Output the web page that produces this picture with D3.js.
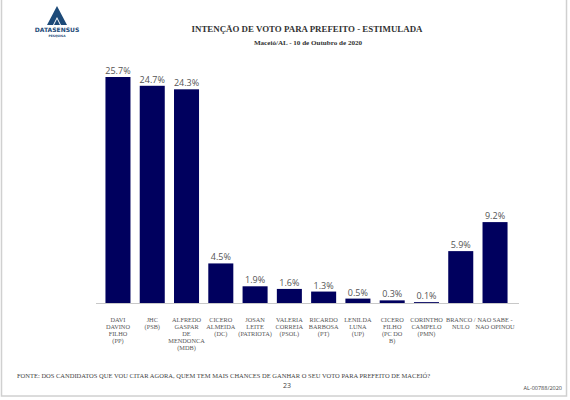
<!DOCTYPE html>
<html>
<head>
<meta charset="utf-8">
<script src="https://cdn.jsdelivr.net/npm/d3@7"></script>
<style>
  body { margin: 0; background: #fff; }
  .serif { font-family: "Liberation Serif", "DejaVu Serif", serif; }
</style>
</head>
<body>
<div class="chart"></div>
<script>
var svgWidth = 570;
var svgHeight = 400;

// data
var candidates = [
  ["DAVI", "DAVINO", "FILHO", "(PP)"],
  ["JHC", "(PSB)"],
  ["ALFREDO", "GASPAR", "DE", "MENDONCA", "(MDB)"],
  ["CICERO", "ALMEIDA", "(DC)"],
  ["JOSAN", "LEITE", "(PATRIOTA)"],
  ["VALERIA", "CORREIA", "(PSOL)"],
  ["RICARDO", "BARBOSA", "(PT)"],
  ["LENILDA", "LUNA", "(UP)"],
  ["CICERO", "FILHO", "(PC DO", "B)"],
  ["CORINTHO", "CAMPELO", "(PMN)"],
  ["BRANCO /", "NULO"],
  ["NAO SABE -", "NAO OPINOU"]
];
var percents = [25.7, 24.7, 24.3, 4.5, 1.9, 1.6, 1.3, 0.5, 0.3, 0.1, 5.9, 9.2];

var svg = d3.select(".chart")
  .append("svg")
  .attr("width", svgWidth)
  .attr("height", svgHeight);

// page frame
svg.append("rect")
  .attr("x", 1.5).attr("y", -2)
  .attr("width", 565).attr("height", 398)
  .attr("fill", "none")
  .attr("stroke", "#d0d0d0")
  .attr("stroke-width", 1.5);

// logo
var logo = svg.append("g").attr("transform", "translate(57, 0)");
logo.append("path")
  .attr("d", "M0,6 L-10,25 L-4,25 L0,17 L4,25 L10,25 Z")
  .attr("fill", "#1d4a78");
logo.append("path")
  .attr("d", "M0,19 L-3,25 L3,25 Z")
  .attr("fill", "#1d4a78");
logo.append("text")
  .attr("x", 0).attr("y", 32)
  .attr("text-anchor", "middle")
  .style("font-family", "DejaVu Sans")
  .style("font-size", "6px")
  .style("font-weight", "bold")
  .attr("fill", "#1d4a78")
  .text("DATASENSUS");
logo.append("text")
  .attr("x", 0).attr("y", 36.5)
  .attr("text-anchor", "middle")
  .style("font-family", "DejaVu Sans")
  .style("font-size", "3px")
  .style("font-weight", "bold")
  .attr("fill", "#1d4a78")
  .text("PESQUISA");

// titles
svg.append("text")
  .attr("class", "serif")
  .attr("x", 307).attr("y", 32)
  .attr("text-anchor", "middle")
  .style("font-size", "8.9px")
  .style("font-weight", "bold")
  .attr("fill", "#333")
  .text("INTENÇÃO DE VOTO PARA PREFEITO - ESTIMULADA");

svg.append("text")
  .attr("class", "serif")
  .attr("x", 308).attr("y", 44.5)
  .attr("text-anchor", "middle")
  .style("font-size", "7.1px")
  .style("font-weight", "bold")
  .attr("fill", "#333")
  .text("Maceió/AL - 10 de Outubro de 2020");

// scales
var baseY = 303;
var xScale = d3.scaleBand()
  .domain(d3.range(percents.length))
  .range([101, 512])
  .paddingInner(0.27)
  .paddingOuter(0.13);

var yScale = d3.scaleLinear()
  .domain([0, 25.7])
  .range([baseY, 77]);

// baseline
svg.append("line")
  .attr("x1", 96).attr("x2", 519)
  .attr("y1", baseY + 0.5).attr("y2", baseY + 0.5)
  .attr("stroke", "#c8c8c8")
  .attr("stroke-width", 1.2);

// bars
svg.selectAll("rect.bar")
  .data(percents)
  .enter()
  .append("rect")
  .attr("class", "bar")
  .attr("x", (d, i) => xScale(i))
  .attr("y", d => yScale(d))
  .attr("width", xScale.bandwidth())
  .attr("height", d => baseY - yScale(d))
  .attr("fill", "#00005e");

// value labels
svg.selectAll("text.value")
  .data(percents)
  .enter()
  .append("text")
  .attr("class", "value")
  .attr("x", (d, i) => xScale(i) + xScale.bandwidth() / 2)
  .attr("y", d => yScale(d) - 3)
  .attr("text-anchor", "middle")
  .style("font-family", "Open Sans, sans-serif")
  .style("font-size", "9px")
  .attr("fill", "#555")
  .text(d => d.toFixed(1) + "%");

// category labels
var catGroups = svg.selectAll("text.cat")
  .data(candidates)
  .enter()
  .append("text")
  .attr("class", "cat serif")
  .attr("text-anchor", "middle")
  .style("font-size", "6.3px")
  .attr("fill", "#555");

catGroups.selectAll("tspan")
  .data((d, i) => d.map(t => ({ t: t, i: i })))
  .enter()
  .append("tspan")
  .attr("x", d => xScale(d.i) + xScale.bandwidth() / 2)
  .attr("y", (d, j) => 322 + j * 7)
  .text(d => d.t);

// footer
svg.append("text")
  .attr("class", "serif")
  .attr("x", 17).attr("y", 378)
  .style("font-size", "6.5px")
  .attr("fill", "#444")
  .text("FONTE: DOS CANDIDATOS QUE VOU CITAR AGORA, QUEM TEM MAIS CHANCES DE GANHAR O SEU VOTO PARA PREFEITO DE MACEIÓ?");

svg.append("text")
  .attr("x", 287).attr("y", 388)
  .attr("text-anchor", "middle")
  .style("font-family", "Open Sans, sans-serif")
  .style("font-size", "7px")
  .attr("fill", "#444")
  .text("23");

svg.append("text")
  .attr("x", 562).attr("y", 390)
  .attr("text-anchor", "end")
  .style("font-family", "Open Sans, sans-serif")
  .style("font-size", "5.5px")
  .attr("fill", "#444")
  .text("AL-00788/2020");
</script>
</body>
</html>
